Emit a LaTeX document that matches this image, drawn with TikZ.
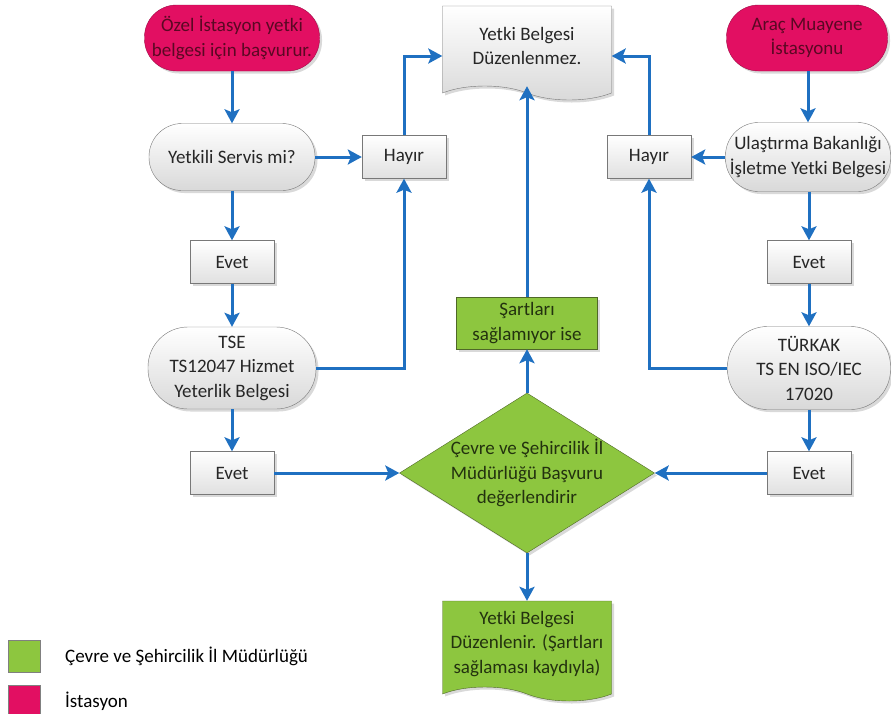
\documentclass[tikz,border=0pt]{standalone}
\usepackage{fontspec}
\setmainfont{Carlito}
\usetikzlibrary{shapes.geometric,shapes.symbols,shadows,arrows.meta}

\definecolor{akis}{RGB}{31,112,193}
\definecolor{pembe}{RGB}{226,15,98}
\definecolor{pembeyazi}{RGB}{90,8,35}
\definecolor{yesil}{RGB}{141,198,63}
\definecolor{yesilkenar}{RGB}{79,104,40}
\definecolor{yesilyazi}{RGB}{35,50,15}
\definecolor{grikenar}{RGB}{120,120,120}

\begin{document}
\begin{tikzpicture}[x=1pt,y=-1pt,
		every node/.style={font=\fontsize{19}{24.5}\selectfont, align=center, inner sep=0pt},
		golge/.style={drop shadow={shadow xshift=2.5pt,shadow yshift=-2.5pt,opacity=0.3}},
		istasyon/.style={rectangle, rounded corners=32pt, draw=pembe!70!black, fill=pembe, text=pembeyazi, minimum height=66pt, golge},
		soru/.style={rectangle, rounded corners=33pt, draw=grikenar, top color=white, bottom color=black!15, text=black!85, minimum height=67pt, golge},
		kutu/.style={rectangle, draw=grikenar, top color=white, bottom color=black!12, text=black!85, minimum width=84pt, minimum height=43pt, golge},
		yesilkutu/.style={rectangle, draw=yesilkenar, fill=yesil, text=yesilyazi, golge},
		belge/.style={tape, tape bend top=none, tape bend bottom=out and in, tape bend height=14pt, minimum width=169pt, golge},
		legkare/.style={rectangle, draw=black!50, minimum width=32pt, minimum height=32pt},
		akisok/.style={draw=akis, line width=3pt, -{Stealth[length=14pt,width=15pt,inset=3pt]}}
	]
	\useasboundingbox (0,0) rectangle (891,713);
	
	\node[istasyon, minimum width=175pt] (basvuru) at (232,38) {Özel İstasyon yetki\\belgesi için başvurur.};
	\node[soru, minimum width=166pt] (yetkili) at (232,157) {Yetkili Servis mi?};
	\node[kutu] (hayirL) at (404,157) {Hayır};
	\node[kutu] (evetL1) at (232,262) {Evet};
	\node[soru, rounded corners=40pt, minimum width=168pt, minimum height=82pt] (tse) at (232,368) {TSE\\TS12047 Hizmet\\Yeterlik Belgesi};
	\node[kutu] (evetL2) at (232,473) {Evet};
	
	\node[belge, draw=grikenar, top color=white, bottom color=black!15, text=black!85, minimum height=94pt] (duzenlenmez) at (527,46) {Yetki Belgesi\\Düzenlenmez.};
	
	\node[istasyon, minimum width=161pt] (arac) at (807,38) {Araç Muayene\\İstasyonu};
	\node[soru, minimum width=165pt, minimum height=69pt] (ulastirma) at (808,157) {Ulaştırma Bakanlığı\\İşletme Yetki Belgesi};
	\node[kutu] (hayirR) at (649,157) {Hayır};
	\node[kutu] (evetR1) at (809,262) {Evet};
	\node[soru, rounded corners=40pt, minimum width=163pt, minimum height=83pt] (turkak) at (809,368) {TÜRKAK\\TS EN ISO/IEC\\17020};
	\node[kutu] (evetR2) at (809,473) {Evet};
	
	\node[yesilkutu, minimum width=141pt, minimum height=52pt] (sartlari) at (527,323) {Şartları\\sağlamıyor ise};
	\node[diamond, aspect=1.6, inner sep=-8pt, draw=yesilkenar, fill=yesil, text=yesilyazi, minimum width=255pt, minimum height=160pt, golge] (cevre) at (527,473) {Çevre ve Şehircilik İl\\Müdürlüğü Başvuru\\değerlendirir};
	\node[belge, draw=yesilkenar, fill=yesil, text=yesilyazi, minimum height=100pt] (duzenlenir) at (527,644) {Yetki Belgesi\\Düzenlenir. (Şartları\\sağlaması kaydıyla)};
	
	\node[legkare, fill=yesil] (lejYesil) at (24,656) {};
	\node[anchor=west] (lejYesilYazi) at (65,656) {Çevre ve Şehircilik İl Müdürlüğü};
	\node[legkare, fill=pembe] (lejPembe) at (24,701) {};
	\node[anchor=west] (lejPembeYazi) at (65,701) {İstasyon};
	
	\draw[akisok] (basvuru) -- (yetkili);
	\draw[akisok] (yetkili) -- (hayirL);
	\draw[akisok] (yetkili) -- (evetL1);
	\draw[akisok] (evetL1) -- (tse);
	\draw[akisok] (tse) -- (evetL2);
	\draw[akisok] (tse.east) -| (hayirL.south);
	\draw[akisok] (hayirL.north) |- ([yshift=-10pt]duzenlenmez.west);
	\draw[akisok] (evetL2.east) -- (cevre.west);
	
	\draw[akisok] (arac.south -| ulastirma.north) -- (ulastirma);
	\draw[akisok] (ulastirma) -- (hayirR);
	\draw[akisok] (ulastirma.south -| evetR1.north) -- (evetR1);
	\draw[akisok] (evetR1) -- (turkak);
	\draw[akisok] (turkak) -- (evetR2);
	\draw[akisok] (turkak.west) -| (hayirR.south);
	\draw[akisok] (hayirR.north) |- ([yshift=-10pt]duzenlenmez.east);
	\draw[akisok] (evetR2.west) -- (cevre.east);
	
	\draw[akisok] (cevre.north) -- (sartlari.south);
	\draw[akisok] (sartlari.north) -- (duzenlenmez.south);
	\draw[akisok] (cevre.south) -- (duzenlenir.north);
\end{tikzpicture}
\end{document}
